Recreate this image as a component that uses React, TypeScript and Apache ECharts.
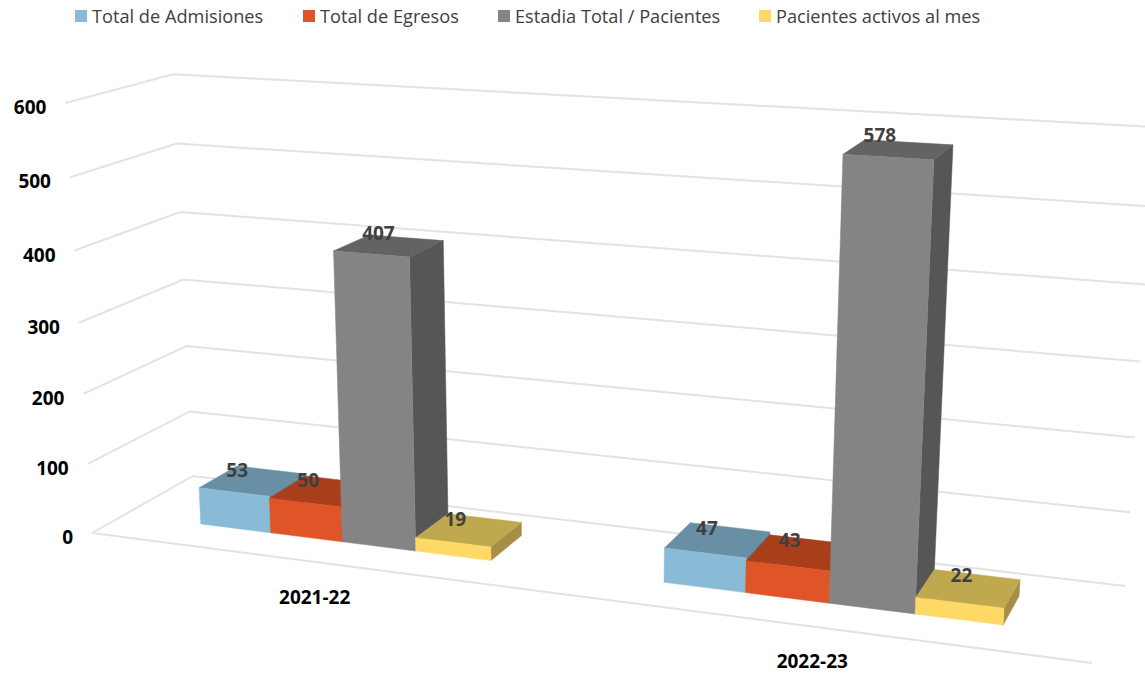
import React, { useEffect, useRef } from "react";
import * as echarts from "echarts";

const W = 1145;
const H = 674;

const categories = ["2021-22", "2022-23"];
const seriesNames = ["Total de Admisiones", "Total de Egresos", "Estadia Total / Pacientes", "Pacientes activos al mes"];
const admisiones = [53, 47];
const egresos = [50, 43];
const estadia = [407, 578];
const activos = [19, 22];
const tickValues = [0, 100, 200, 300, 400, 500, 600];

const allValues = [admisiones, egresos, estadia, activos];
const frontColors = ["#8ABBD6", "#DF5527", "#848484", "#FFD966"];
const topColors = ["#698FA5", "#A83E1A", "#636363", "#C0A84F"];
const sideColors = ["#5F8196", "#943616", "#565656", "#A68F45"];
const legendLefts = [75, 303, 498, 759];

type P = [number, number];

// Floor of the chart box on the page: front-left, front-right, back-right, back-left
const FLOOR: P[] = [[92, 533], [1092, 663], [1125, 586], [193, 476]];
const WALL_HEIGHT = 430;
const VANISH_X = 585;
const VANISH_DIST = 7960;

function homography(q: P[]) {
  const [[x0, y0], [x1, y1], [x2, y2], [x3, y3]] = q;
  const sx = x0 - x1 + x2 - x3;
  const sy = y0 - y1 + y2 - y3;
  const dx1 = x1 - x2, dx2 = x3 - x2, dy1 = y1 - y2, dy2 = y3 - y2;
  const den = dx1 * dy2 - dx2 * dy1;
  const g = (sx * dy2 - dx2 * sy) / den;
  const h = (dx1 * sy - sx * dy1) / den;
  const a = x1 - x0 + g * x1, b = x3 - x0 + h * x3, c = x0;
  const d = y1 - y0 + g * y1, e = y3 - y0 + h * y3, f = y0;
  return (u: number, z: number): [number, number, number] => {
    const w = g * u + h * z + 1;
    return [(a * u + b * z + c) / w, (d * u + e * z + f) / w, w];
  };
}
const floorAt = homography(FLOOR);

// u: 0..1 along the categories, z: 0..1 front to back, t: 0..1 of the value axis
function project(u: number, z: number, t: number): P {
  const [x, y, w] = floorAt(u, z);
  const curved = t * (1 - 0.044 * (1 - t));
  const h = (WALL_HEIGHT * curved) / Math.pow(w, 0.9);
  return [x + ((x - VANISH_X) / VANISH_DIST) * h, y - h];
}

const Z_FRONT = 0.31;
const Z_BACK = 0.7;
const BAR_U = 0.0805;
const BAR_SHIFT = 0.0005;

const LABEL_FONT = 'bold 19px "Open Sans"';

function quad(points: P[], fill: string) {
  return { type: "polygon", shape: { points }, style: { fill, stroke: fill, lineWidth: 0.5 } };
}

function barRenderer(k: number) {
  return (_p: any, api: any) => {
    const cat = api.value(0);
    const val = api.value(1);
    const c = api.coord([cat, val]);
    const u0 = c[0] / W + (k - 2) * BAR_U + BAR_SHIFT;
    const u1 = u0 + BAR_U;
    const t = 1 - c[1] / H;
    const fb0 = project(u0, Z_FRONT, 0), fb1 = project(u1, Z_FRONT, 0);
    const ft0 = project(u0, Z_FRONT, t), ft1 = project(u1, Z_FRONT, t);
    const bb1 = project(u1, Z_BACK, 0);
    const bt0 = project(u0, Z_BACK, t), bt1 = project(u1, Z_BACK, t);
    const btc = project((u0 + u1) / 2, Z_BACK, t);
    const baseX = (fb0[0] + fb1[0]) / 2;
    const drift = (ft0[0] + ft1[0]) / 2 - baseX;
    const children: any[] = [
      quad([ft1, bt1, bb1, fb1], sideColors[k]),
      quad([ft0, ft1, bt1, bt0], topColors[k]),
      quad([fb0, fb1, ft1, ft0], frontColors[k]),
      {
        type: "text",
        z2: 50,
        style: {
          text: String(val),
          x: baseX + 0.35 * drift + 2,
          y: btc[1] - val * 0.014 + 1,
          align: "center",
          verticalAlign: "middle",
          font: LABEL_FONT,
          fill: "#404040",
        },
      },
    ];
    return { type: "group", children };
  };
}

const gridColor = "#E3E3E3";

function wallRenderer(_p: any, api: any) {
  const v = api.value(0);
  const t = 1 - api.coord([0, v])[1] / H;
  const a = project(0, 0, t), b = project(0, 1, t), c = project(1, 1, t);
  return {
    type: "group",
    children: [
      { type: "polyline", shape: { points: [a, b, c] }, style: { fill: "none", stroke: gridColor, lineWidth: 2 } },
      {
        type: "text",
        style: {
          text: String(v),
          x: a[0] - 19,
          y: a[1] + 4,
          align: "right",
          verticalAlign: "middle",
          font: LABEL_FONT,
          fill: "#000000",
        },
      },
    ],
  };
}

function categoryRenderer(_p: any, api: any) {
  const cat = api.value(0);
  const u = api.coord([cat, 0])[0] / W;
  const a = project(u, 0, 0);
  return {
    type: "text",
    style: {
      text: categories[cat],
      x: a[0] + 1.5,
      y: a[1] + 35,
      align: "center",
      verticalAlign: "middle",
      font: LABEL_FONT,
      fill: "#000000",
    },
  };
}

function floorRenderer() {
  const a = project(0, 0, 0), b = project(1, 0, 0);
  return { type: "line", shape: { x1: a[0], y1: a[1], x2: b[0], y2: b[1] }, style: { stroke: gridColor, lineWidth: 2 } };
}

export default function App() {
  const ref = useRef<HTMLDivElement>(null);
  useEffect(() => {
    const chart = echarts.init(ref.current!, undefined, { renderer: "svg" });
    chart.setOption({
      animation: false,
      backgroundColor: "#FFFFFF",
      grid: { left: 0, right: 0, top: 0, bottom: 0 },
      xAxis: { type: "category", data: categories, show: false },
      yAxis: { type: "value", min: 0, max: 600, interval: 100, show: false },
      legend: seriesNames.map((name, i) => ({
        left: legendLefts[i],
        top: 7,
        padding: 0,
        selectedMode: false,
        itemWidth: 12,
        itemHeight: 12,
        icon: "rect",
        data: [{ name, itemStyle: { color: frontColors[i] } }],
        textStyle: { fontFamily: "Open Sans", fontSize: 18.2, color: "#404040" },
      })),
      series: [
        {
          type: "custom",
          silent: true,
          clip: false,
          data: tickValues.map((v) => [v]),
          encode: { y: 0 },
          renderItem: wallRenderer,
        },
        {
          type: "custom",
          silent: true,
          clip: false,
          data: [[0]],
          renderItem: floorRenderer,
        },
        {
          type: "custom",
          silent: true,
          clip: false,
          data: categories.map((_, i) => [i]),
          encode: { x: 0 },
          renderItem: categoryRenderer,
        },
        ...seriesNames.map((name, k) => ({
          type: "custom",
          name,
          silent: true,
          clip: false,
          itemStyle: { color: frontColors[k] },
          data: allValues[k].map((v, i) => [i, v]),
          encode: { x: 0, y: 1 },
          renderItem: barRenderer(k),
        })),
      ],
    });
    return () => chart.dispose();
  }, []);
  return <div ref={ref} style={{ position: "fixed", left: 0, top: 0, width: W, height: H }} />;
}
